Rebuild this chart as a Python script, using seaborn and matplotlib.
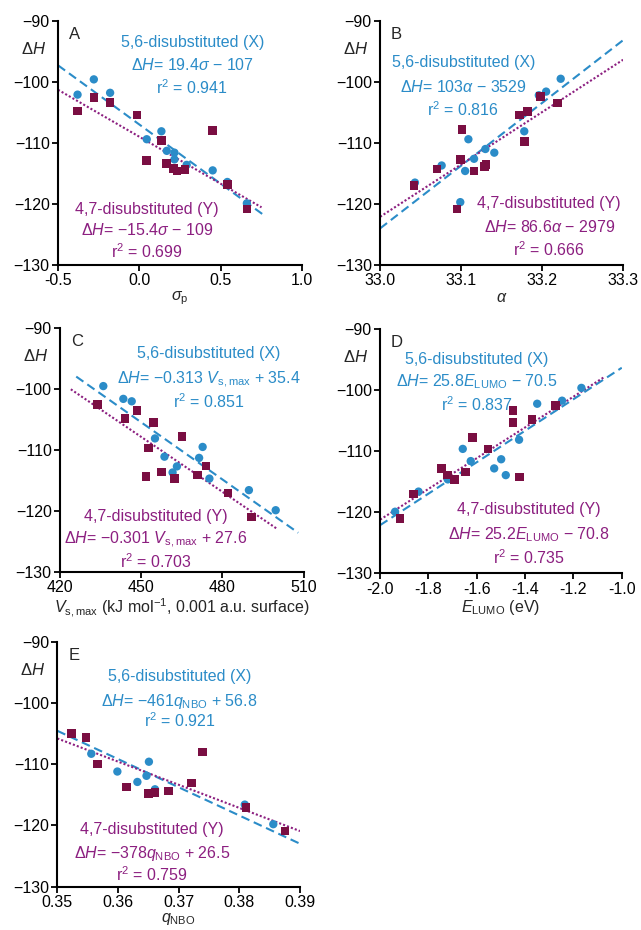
import numpy as np
import pandas as pd
import matplotlib
matplotlib.use("Agg")
import matplotlib.pyplot as plt
import seaborn as sns

sns.set_theme(style="ticks")
plt.rcParams["font.family"] = ["Liberation Sans", "DejaVu Sans"]
plt.rcParams["mathtext.fontset"] = "custom"
plt.rcParams["mathtext.rm"] = "Liberation Sans"
plt.rcParams["mathtext.it"] = "Liberation Sans:italic"
plt.rcParams["mathtext.bf"] = "Liberation Sans:bold"

BLUE = "#2b8cc8"
MAROON = "#7a0e42"
PURPLE = "#8c1f80"

# panel A: sigma_p
a_x56 = [-0.38, -0.28, -0.18, 0.045, 0.135, 0.168, 0.215, 0.215, 0.29, 0.45, 0.54, 0.66]
a_y56 = [-102.1, -99.6, -101.8, -109.4, -108.1, -111.3, -111.6, -112.7, -113.6, -114.5, -116.4, -119.9]
a_x47 = [-0.38, -0.28, -0.18, -0.015, 0.045, 0.135, 0.168, 0.21, 0.23, 0.28, 0.45, 0.54, 0.66]
a_y47 = [-104.8, -102.6, -103.4, -105.4, -112.9, -109.6, -113.4, -114.2, -114.6, -114.4, -108.0, -116.8, -120.8]

# panel B: alpha
b_x56 = [33.043, 33.076, 33.105, 33.099, 33.109, 33.116, 33.130, 33.141, 33.178, 33.196, 33.205, 33.223]
b_y56 = [-116.5, -113.7, -114.6, -119.7, -109.4, -112.6, -111.0, -111.6, -108.1, -102.2, -101.6, -99.5]
b_x47 = [33.042, 33.070, 33.101, 33.099, 33.095, 33.116, 33.129, 33.131, 33.172, 33.182, 33.178, 33.198, 33.219]
b_y47 = [-117.0, -114.3, -107.8, -112.7, -120.8, -114.6, -113.9, -113.5, -105.4, -104.9, -109.8, -102.4, -103.5]

# panel C: Vs,max
c_x56 = [436.0, 443.4, 446.5, 455.1, 458.6, 463.2, 461.6, 471.4, 472.7, 475.2, 489.8, 499.7]
c_y56 = [-99.5, -101.6, -102.0, -108.1, -111.1, -112.7, -113.7, -111.3, -109.5, -114.7, -116.6, -119.9]
c_x47 = [433.8, 444.0, 448.4, 454.5, 452.7, 451.7, 457.6, 462.3, 465.0, 470.8, 474.0, 482.0, 490.7]
c_y47 = [-102.5, -104.8, -103.5, -105.5, -109.7, -114.4, -113.6, -114.7, -107.8, -114.1, -112.6, -117.1, -121.0]

# panel D: E_LUMO
d_x56 = [-1.938, -1.841, -1.72, -1.658, -1.625, -1.528, -1.499, -1.480, -1.425, -1.350, -1.247, -1.167]
d_y56 = [-119.9, -116.6, -114.6, -109.6, -111.6, -112.8, -111.3, -113.9, -108.1, -102.2, -101.7, -99.6]
d_x47 = [-1.917, -1.862, -1.745, -1.721, -1.692, -1.646, -1.617, -1.554, -1.451, -1.451, -1.423, -1.371, -1.274]
d_y47 = [-121.0, -117.0, -112.8, -113.9, -114.6, -113.4, -107.7, -109.6, -103.3, -105.3, -114.2, -104.8, -102.5]

# panel E: q_NBO
e_x56 = [0.3556, 0.3599, 0.3632, 0.3647, 0.3651, 0.3661, 0.3809, 0.3856]
e_y56 = [-108.3, -111.2, -112.9, -111.9, -109.6, -114.1, -116.6, -119.8]
e_x47 = [0.3523, 0.3547, 0.3566, 0.3614, 0.3650, 0.3661, 0.3683, 0.3721, 0.3739, 0.3811, 0.3875]
e_y47 = [-105.0, -105.6, -110.0, -113.7, -114.8, -114.6, -114.4, -113.1, -108.0, -117.1, -120.9]

# fit lines: (slope, intercept, x_start, x_end)
a_fit56 = (-19.4, -107.0, -0.5, 0.76)
a_fit47 = (-15.4, -109.0, -0.5, 0.75)
b_fit56 = (102.7, -3513.1, 33.0, 33.3)
b_fit47 = (85.7, -2950.2, 33.0, 33.3)
c_fit56 = (-0.313, 35.4, 426.0, 508.0)
c_fit47 = (-0.301, 27.6, 424.0, 500.0)
d_fit56 = (25.8, -70.5, -2.0, -1.0)
d_fit47 = (25.2, -70.8, -2.0, -1.07)
e_fit56 = (-461.0, 56.8, 0.35, 0.39)
e_fit47 = (-378.0, 26.5, 0.35, 0.39)

# annotation texts
a_txt56 = ["5,6-disubstituted (X)", r"$\Delta H$= 19.4$\sigma$ − 107", r"r$^2$ = 0.941"]
a_txt47 = ["4,7-disubstituted (Y)", r"$\Delta H$= −15.4$\sigma$ − 109", r"r$^2$ = 0.699"]
b_txt56 = ["5,6-disubstituted (X)", r"$\Delta H$= 103$\alpha$ − 3529", r"r$^2$ = 0.816"]
b_txt47 = ["4,7-disubstituted (Y)", r"$\Delta H$= 86.6$\alpha$ − 2979", r"r$^2$ = 0.666"]
c_txt56 = ["5,6-disubstituted (X)", r"$\Delta H$= −0.313 $V_{\rm s,max}$ + 35.4", r"r$^2$ = 0.851"]
c_txt47 = ["4,7-disubstituted (Y)", r"$\Delta H$= −0.301 $V_{\rm s,max}$ + 27.6", r"r$^2$ = 0.703"]
d_txt56 = ["5,6-disubstituted (X)", r"$\Delta H$= 25.8$E_{\rm LUMO}$ − 70.5", r"r$^2$ = 0.837"]
d_txt47 = ["4,7-disubstituted (Y)", r"$\Delta H$= 25.2$E_{\rm LUMO}$ − 70.8", r"r$^2$ = 0.735"]
e_txt56 = ["5,6-disubstituted (X)", r"$\Delta H$= −461$q_{\rm NBO}$ + 56.8", r"r$^2$ = 0.921"]
e_txt47 = ["4,7-disubstituted (Y)", r"$\Delta H$= −378$q_{\rm NBO}$ + 26.5", r"r$^2$ = 0.759"]


def draw_panel(ax, letter, x56, y56, x47, y47, fit56, fit47, xlim, xticks, xlabel,
               txt56, pos56, txt47, pos47):
    for fit, col, ls, lw in [(fit56, BLUE, (0, (4.2, 2.3)), 1.5),
                             (fit47, PURPLE, (0, (1.0, 1.0)), 1.5)]:
        slope, icpt, x0, x1 = fit
        xs = np.linspace(x0, x1, 50)
        sns.lineplot(x=xs, y=slope * xs + icpt, ax=ax, color=col, lw=lw,
                     linestyle=ls, zorder=2)
    sns.scatterplot(x=x56, y=y56, ax=ax, marker="o", s=36, color=BLUE,
                    edgecolor="none", zorder=3)
    sns.scatterplot(x=x47, y=y47, ax=ax, marker="s", s=38, color=MAROON,
                    edgecolor="none", zorder=4)

    ax.set_xlim(*xlim)
    ax.set_ylim(-130, -90)
    ax.set_xticks(xticks)
    ax.set_yticks([-130, -120, -110, -100, -90])
    ax.set_xlabel(xlabel, fontsize=11.5, labelpad=1)
    ax.set_ylabel("")
    for s in ["top", "right"]:
        ax.spines[s].set_visible(False)
    for s in ["left", "bottom"]:
        ax.spines[s].set_linewidth(1.5)
        ax.spines[s].set_color("black")
    ax.tick_params(direction="out", length=4, width=1.3, labelsize=11.5,
                   colors="black", pad=2)

    ax.text(0.045, 0.975, letter, transform=ax.transAxes, fontsize=12,
            ha="left", va="top")
    ax.text(-0.1, 0.885, r"$\Delta H$", transform=ax.transAxes, fontsize=12,
            ha="center", va="center")

    for lines, pos, col in [(txt56, pos56, BLUE), (txt47, pos47, PURPLE)]:
        cx, ys = pos
        for t, yy in zip(lines, ys):
            ax.text(cx, yy, t, transform=ax.transAxes, fontsize=11.5,
                    ha="center", va="center", color=col)


fig = plt.figure(figsize=(6.41, 9.30), dpi=100)
ax_a = fig.add_axes([0.0905, 0.715, 0.381, 0.2627])
ax_b = fig.add_axes([0.593, 0.715, 0.379, 0.2627])
ax_c = fig.add_axes([0.0936, 0.3853, 0.380, 0.2617])
ax_d = fig.add_axes([0.593, 0.3835, 0.377, 0.2624])
ax_e = fig.add_axes([0.0894, 0.0466, 0.3786, 0.2634])

draw_panel(ax_a, "A", a_x56, a_y56, a_x47, a_y47, a_fit56, a_fit47,
           (-0.5, 1.0), [-0.5, 0.0, 0.5, 1.0], r"$\sigma_{\rm p}$",
           a_txt56, (0.55, [0.91, 0.8175, 0.7275]),
           a_txt47, (0.363, [0.2275, 0.1425, 0.055]))
draw_panel(ax_b, "B", b_x56, b_y56, b_x47, b_y47, b_fit56, b_fit47,
           (33.0, 33.3), [33.0, 33.1, 33.2, 33.3], r"$\alpha$",
           b_txt56, (0.342, [0.8275, 0.7275, 0.635]),
           b_txt47, (0.696, [0.2525, 0.155, 0.065]))
draw_panel(ax_c, "C", c_x56, c_y56, c_x47, c_y47, c_fit56, c_fit47,
           (420, 510), [420, 450, 480, 510],
           r"$V_{\rm s,max}$ (kJ mol$^{-1}$, 0.001 a.u. surface)",
           c_txt56, (0.61, [0.895, 0.79, 0.70]),
           c_txt47, (0.393, [0.225, 0.1325, 0.04]))
draw_panel(ax_d, "D", d_x56, d_y56, d_x47, d_y47, d_fit56, d_fit47,
           (-2.0, -1.0), [-2.0, -1.8, -1.6, -1.4, -1.2, -1.0], r"$E_{\rm LUMO}$ (eV)",
           d_txt56, (0.40, [0.8775, 0.785, 0.69]),
           d_txt47, (0.614, [0.26, 0.16, 0.065]))
draw_panel(ax_e, "E", e_x56, e_y56, e_x47, e_y47, e_fit56, e_fit47,
           (0.35, 0.39), [0.35, 0.36, 0.37, 0.38, 0.39], r"$q_{\rm NBO}$",
           e_txt56, (0.503, [0.8575, 0.755, 0.6775]),
           e_txt47, (0.389, [0.2325, 0.135, 0.0475]))

ax_a.xaxis.set_major_formatter(matplotlib.ticker.FormatStrFormatter("%.1f"))
ax_b.xaxis.set_major_formatter(matplotlib.ticker.FormatStrFormatter("%.1f"))
ax_d.xaxis.set_major_formatter(matplotlib.ticker.FormatStrFormatter("%.1f"))
ax_e.xaxis.set_major_formatter(matplotlib.ticker.FormatStrFormatter("%.2f"))

fig.savefig("out.png", dpi=100, facecolor="white")
